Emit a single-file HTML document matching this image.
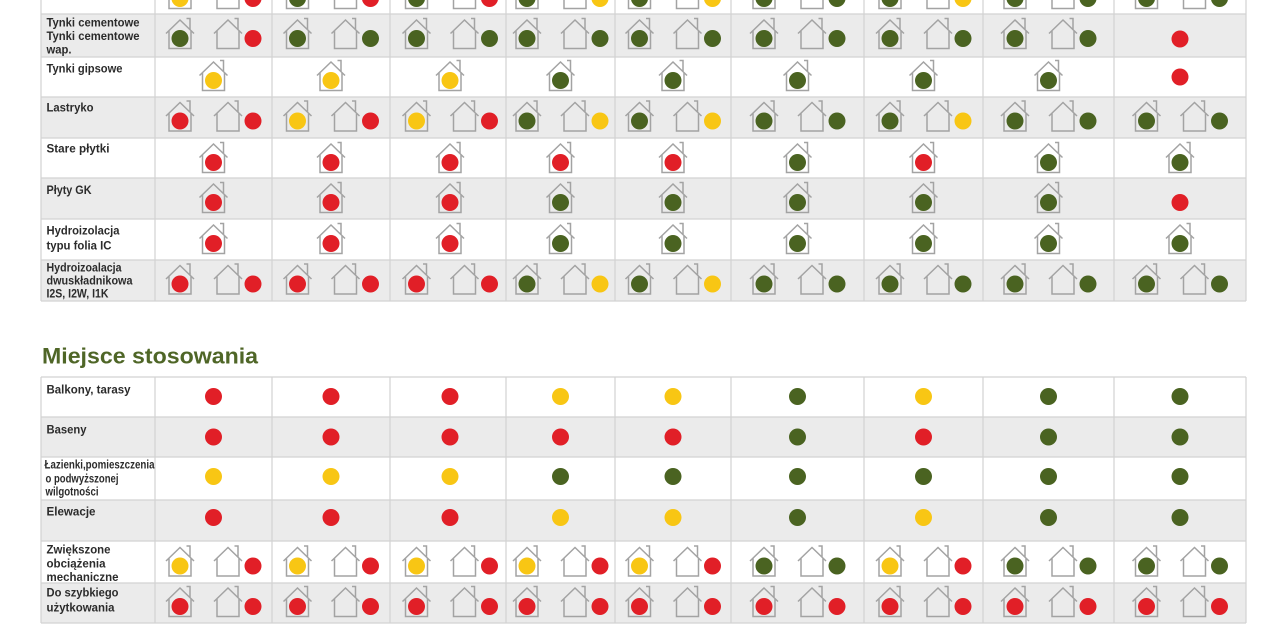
<!DOCTYPE html>
<html><head><meta charset="utf-8"><style>
html,body{margin:0;padding:0;background:#fff;}
svg{display:block;}
text{font-family:"Liberation Sans","DejaVu Sans",sans-serif;font-weight:bold;}
.l{font-size:11.5px;fill:#2b2b2b;}
</style></head><body>
<svg width="1280" height="640" viewBox="0 0 1280 640" xmlns="http://www.w3.org/2000/svg">
<defs>
<g id="h" fill="none" stroke="#a3a3a3" stroke-width="1.5"><path d="M-14,-5 L0,-18.5 L14,-5 M-11,-8 V10 H11 V-8 M6.5,-20 H10 V-9"/></g>
<circle id="dR" r="8.5" fill="#e11f27"/>
<circle id="dY" r="8.5" fill="#f8c614"/>
<circle id="dG" r="8.5" fill="#4a6321"/>
<g id="hR"><use href="#h"/><use href="#dR"/></g>
<g id="hY"><use href="#h"/><use href="#dY"/></g>
<g id="hG"><use href="#h"/><use href="#dG"/></g>
</defs>

<!-- top table backgrounds -->
<rect x="41" y="14" width="1205" height="43" fill="#ebebeb"/>
<rect x="41" y="97" width="1205" height="41" fill="#ebebeb"/>
<rect x="41" y="178" width="1205" height="41" fill="#ebebeb"/>
<rect x="41" y="260" width="1205" height="41" fill="#ebebeb"/>
<!-- bottom table backgrounds -->
<rect x="41" y="417" width="1205" height="40" fill="#ebebeb"/>
<rect x="41" y="500" width="1205" height="41" fill="#ebebeb"/>
<rect x="41" y="583" width="1205" height="40" fill="#ebebeb"/>

<g stroke="#d2d2d2" stroke-width="1.2">
<path d="M41,14H1246M41,57H1246M41,97H1246M41,138H1246M41,178H1246M41,219H1246M41,260H1246M41,301H1246"/>
<path d="M41,0V301M155,0V301M272,0V301M390,0V301M506,0V301M615,0V301M731,0V301M864,0V301M983,0V301M1114,0V301M1246,0V301"/>
<path d="M41,377H1246M41,417H1246M41,457H1246M41,500H1246M41,541H1246M41,583H1246M41,623H1246"/>
<path d="M41,377V623M155,377V623M272,377V623M390,377V623M506,377V623M615,377V623M731,377V623M864,377V623M983,377V623M1114,377V623M1246,377V623"/>
</g>

<!-- labels -->
<text class="l" x="46.5" y="26.7" textLength="93" lengthAdjust="spacingAndGlyphs">Tynki cementowe</text>
<text class="l" x="46.5" y="40" textLength="93" lengthAdjust="spacingAndGlyphs">Tynki cementowe</text>
<text class="l" x="46.5" y="53.3" textLength="25" lengthAdjust="spacingAndGlyphs">wap.</text>
<text class="l" x="46.5" y="72.7" textLength="76" lengthAdjust="spacingAndGlyphs">Tynki gipsowe</text>
<text class="l" x="46.5" y="111.7" textLength="47" lengthAdjust="spacingAndGlyphs">Lastryko</text>
<text class="l" x="46.5" y="152.3" textLength="63" lengthAdjust="spacingAndGlyphs">Stare płytki</text>
<text class="l" x="46.5" y="194" textLength="45" lengthAdjust="spacingAndGlyphs">Płyty GK</text>
<text class="l" x="46.5" y="234.3" textLength="73" lengthAdjust="spacingAndGlyphs">Hydroizolacja</text>
<text class="l" x="46.5" y="249.3" textLength="65" lengthAdjust="spacingAndGlyphs">typu folia IC</text>
<text class="l" x="46.5" y="271.7" textLength="75" lengthAdjust="spacingAndGlyphs">Hydroizoalacja</text>
<text class="l" x="46.5" y="284.5" textLength="86" lengthAdjust="spacingAndGlyphs">dwuskładnikowa</text>
<text class="l" x="46.5" y="297.3" textLength="62" lengthAdjust="spacingAndGlyphs">I2S, I2W, I1K</text>

<text x="42" y="363.3" font-size="22.5" fill="#4f6627" textLength="216" lengthAdjust="spacingAndGlyphs">Miejsce stosowania</text>

<text class="l" x="46.5" y="393.3" textLength="84" lengthAdjust="spacingAndGlyphs">Balkony, tarasy</text>
<text class="l" x="46.5" y="433.3" textLength="40" lengthAdjust="spacingAndGlyphs">Baseny</text>
<text class="l" x="44.5" y="468.3" textLength="110" lengthAdjust="spacingAndGlyphs">Łazienki,pomieszczenia</text>
<text class="l" x="45.5" y="482.3" textLength="73" lengthAdjust="spacingAndGlyphs">o podwyższonej</text>
<text class="l" x="45.5" y="495.5" textLength="53" lengthAdjust="spacingAndGlyphs">wilgotności</text>
<text class="l" x="46.5" y="515.7" textLength="49" lengthAdjust="spacingAndGlyphs">Elewacje</text>
<text class="l" x="46.5" y="553.3" textLength="64" lengthAdjust="spacingAndGlyphs">Zwiększone</text>
<text class="l" x="46.5" y="567.3" textLength="59" lengthAdjust="spacingAndGlyphs">obciążenia</text>
<text class="l" x="46.5" y="581" textLength="72" lengthAdjust="spacingAndGlyphs">mechaniczne</text>
<text class="l" x="46.5" y="596.7" textLength="72" lengthAdjust="spacingAndGlyphs">Do szybkiego</text>
<text class="l" x="46.5" y="611.7" textLength="68" lengthAdjust="spacingAndGlyphs">użytkowania</text>

<!-- Row 0 (y=-1.5) pairs -->
<g transform="translate(0,-1.5)">
<use href="#hY" x="180"/><use href="#h" x="228"/><use href="#dR" x="253"/>
<use href="#hG" x="297.5"/><use href="#h" x="345.5"/><use href="#dR" x="370.5"/>
<use href="#hG" x="416.5"/><use href="#h" x="464.5"/><use href="#dR" x="489.5"/>
<use href="#hG" x="527"/><use href="#h" x="575"/><use href="#dY" x="600"/>
<use href="#hG" x="639.5"/><use href="#h" x="687.5"/><use href="#dY" x="712.5"/>
<use href="#hG" x="764"/><use href="#h" x="812"/><use href="#dG" x="837"/>
<use href="#hG" x="890"/><use href="#h" x="938"/><use href="#dY" x="963"/>
<use href="#hG" x="1015"/><use href="#h" x="1063"/><use href="#dG" x="1088"/>
<use href="#hG" x="1146.5"/><use href="#h" x="1194.5"/><use href="#dG" x="1219.5"/>
</g>
<!-- Row 1 (38.5) -->
<g transform="translate(0,38.5)">
<use href="#hG" x="180"/><use href="#h" x="228"/><use href="#dR" x="253"/>
<use href="#hG" x="297.5"/><use href="#h" x="345.5"/><use href="#dG" x="370.5"/>
<use href="#hG" x="416.5"/><use href="#h" x="464.5"/><use href="#dG" x="489.5"/>
<use href="#hG" x="527"/><use href="#h" x="575"/><use href="#dG" x="600"/>
<use href="#hG" x="639.5"/><use href="#h" x="687.5"/><use href="#dG" x="712.5"/>
<use href="#hG" x="764"/><use href="#h" x="812"/><use href="#dG" x="837"/>
<use href="#hG" x="890"/><use href="#h" x="938"/><use href="#dG" x="963"/>
<use href="#hG" x="1015"/><use href="#h" x="1063"/><use href="#dG" x="1088"/>
<use href="#dR" x="1180" y="0.5"/>
</g>
<!-- Row 2 (80.5) singles -->
<g transform="translate(0,80.5)">
<use href="#hY" x="213.5"/><use href="#hY" x="331"/><use href="#hY" x="450"/>
<use href="#hG" x="560.5"/><use href="#hG" x="673"/><use href="#hG" x="797.5"/>
<use href="#hG" x="923.5"/><use href="#hG" x="1048.5"/>
<use href="#dR" x="1180" y="-3.5"/>
</g>
<!-- Row 3 (121) -->
<g transform="translate(0,121)">
<use href="#hR" x="180"/><use href="#h" x="228"/><use href="#dR" x="253"/>
<use href="#hY" x="297.5"/><use href="#h" x="345.5"/><use href="#dR" x="370.5"/>
<use href="#hY" x="416.5"/><use href="#h" x="464.5"/><use href="#dR" x="489.5"/>
<use href="#hG" x="527"/><use href="#h" x="575"/><use href="#dY" x="600"/>
<use href="#hG" x="639.5"/><use href="#h" x="687.5"/><use href="#dY" x="712.5"/>
<use href="#hG" x="764"/><use href="#h" x="812"/><use href="#dG" x="837"/>
<use href="#hG" x="890"/><use href="#h" x="938"/><use href="#dY" x="963"/>
<use href="#hG" x="1015"/><use href="#h" x="1063"/><use href="#dG" x="1088"/>
<use href="#hG" x="1146.5"/><use href="#h" x="1194.5"/><use href="#dG" x="1219.5"/>
</g>
<!-- Row 4 (162.5) -->
<g transform="translate(0,162.5)">
<use href="#hR" x="213.5"/><use href="#hR" x="331"/><use href="#hR" x="450"/>
<use href="#hR" x="560.5"/><use href="#hR" x="673"/><use href="#hG" x="797.5"/>
<use href="#hR" x="923.5"/><use href="#hG" x="1048.5"/><use href="#hG" x="1180"/>
</g>
<!-- Row 5 (202.5) -->
<g transform="translate(0,202.5)">
<use href="#hR" x="213.5"/><use href="#hR" x="331"/><use href="#hR" x="450"/>
<use href="#hG" x="560.5"/><use href="#hG" x="673"/><use href="#hG" x="797.5"/>
<use href="#hG" x="923.5"/><use href="#hG" x="1048.5"/>
<use href="#dR" x="1180"/>
</g>
<!-- Row 6 (243.5) -->
<g transform="translate(0,243.5)">
<use href="#hR" x="213.5"/><use href="#hR" x="331"/><use href="#hR" x="450"/>
<use href="#hG" x="560.5"/><use href="#hG" x="673"/><use href="#hG" x="797.5"/>
<use href="#hG" x="923.5"/><use href="#hG" x="1048.5"/><use href="#hG" x="1180"/>
</g>
<!-- Row 7 (284) -->
<g transform="translate(0,284)">
<use href="#hR" x="180"/><use href="#h" x="228"/><use href="#dR" x="253"/>
<use href="#hR" x="297.5"/><use href="#h" x="345.5"/><use href="#dR" x="370.5"/>
<use href="#hR" x="416.5"/><use href="#h" x="464.5"/><use href="#dR" x="489.5"/>
<use href="#hG" x="527"/><use href="#h" x="575"/><use href="#dY" x="600"/>
<use href="#hG" x="639.5"/><use href="#h" x="687.5"/><use href="#dY" x="712.5"/>
<use href="#hG" x="764"/><use href="#h" x="812"/><use href="#dG" x="837"/>
<use href="#hG" x="890"/><use href="#h" x="938"/><use href="#dG" x="963"/>
<use href="#hG" x="1015"/><use href="#h" x="1063"/><use href="#dG" x="1088"/>
<use href="#hG" x="1146.5"/><use href="#h" x="1194.5"/><use href="#dG" x="1219.5"/>
</g>

<!-- Bottom table -->
<g transform="translate(0,396.5)">
<use href="#dR" x="213.5"/><use href="#dR" x="331"/><use href="#dR" x="450"/>
<use href="#dY" x="560.5"/><use href="#dY" x="673"/><use href="#dG" x="797.5"/>
<use href="#dY" x="923.5"/><use href="#dG" x="1048.5"/><use href="#dG" x="1180"/>
</g>
<g transform="translate(0,437)">
<use href="#dR" x="213.5"/><use href="#dR" x="331"/><use href="#dR" x="450"/>
<use href="#dR" x="560.5"/><use href="#dR" x="673"/><use href="#dG" x="797.5"/>
<use href="#dR" x="923.5"/><use href="#dG" x="1048.5"/><use href="#dG" x="1180"/>
</g>
<g transform="translate(0,476.5)">
<use href="#dY" x="213.5"/><use href="#dY" x="331"/><use href="#dY" x="450"/>
<use href="#dG" x="560.5"/><use href="#dG" x="673"/><use href="#dG" x="797.5"/>
<use href="#dG" x="923.5"/><use href="#dG" x="1048.5"/><use href="#dG" x="1180"/>
</g>
<g transform="translate(0,517.5)">
<use href="#dR" x="213.5"/><use href="#dR" x="331"/><use href="#dR" x="450"/>
<use href="#dY" x="560.5"/><use href="#dY" x="673"/><use href="#dG" x="797.5"/>
<use href="#dY" x="923.5"/><use href="#dG" x="1048.5"/><use href="#dG" x="1180"/>
</g>
<g transform="translate(0,566)">
<use href="#hY" x="180"/><use href="#h" x="228"/><use href="#dR" x="253"/>
<use href="#hY" x="297.5"/><use href="#h" x="345.5"/><use href="#dR" x="370.5"/>
<use href="#hY" x="416.5"/><use href="#h" x="464.5"/><use href="#dR" x="489.5"/>
<use href="#hY" x="527"/><use href="#h" x="575"/><use href="#dR" x="600"/>
<use href="#hY" x="639.5"/><use href="#h" x="687.5"/><use href="#dR" x="712.5"/>
<use href="#hG" x="764"/><use href="#h" x="812"/><use href="#dG" x="837"/>
<use href="#hY" x="890"/><use href="#h" x="938"/><use href="#dR" x="963"/>
<use href="#hG" x="1015"/><use href="#h" x="1063"/><use href="#dG" x="1088"/>
<use href="#hG" x="1146.5"/><use href="#h" x="1194.5"/><use href="#dG" x="1219.5"/>
</g>
<g transform="translate(0,606.5)">
<use href="#hR" x="180"/><use href="#h" x="228"/><use href="#dR" x="253"/>
<use href="#hR" x="297.5"/><use href="#h" x="345.5"/><use href="#dR" x="370.5"/>
<use href="#hR" x="416.5"/><use href="#h" x="464.5"/><use href="#dR" x="489.5"/>
<use href="#hR" x="527"/><use href="#h" x="575"/><use href="#dR" x="600"/>
<use href="#hR" x="639.5"/><use href="#h" x="687.5"/><use href="#dR" x="712.5"/>
<use href="#hR" x="764"/><use href="#h" x="812"/><use href="#dR" x="837"/>
<use href="#hR" x="890"/><use href="#h" x="938"/><use href="#dR" x="963"/>
<use href="#hR" x="1015"/><use href="#h" x="1063"/><use href="#dR" x="1088"/>
<use href="#hR" x="1146.5"/><use href="#h" x="1194.5"/><use href="#dR" x="1219.5"/>
</g>
</svg>
</body></html>
